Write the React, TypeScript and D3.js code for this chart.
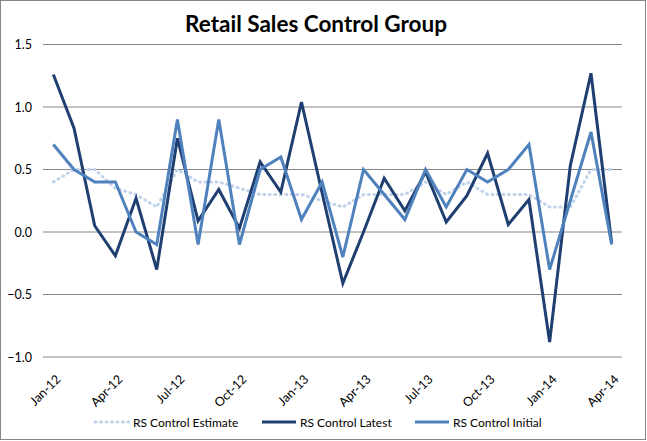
import React from "react";
import * as d3 from "d3";

const months = [
  "Jan-12","Feb-12","Mar-12","Apr-12","May-12","Jun-12","Jul-12","Aug-12","Sep-12","Oct-12","Nov-12","Dec-12",
  "Jan-13","Feb-13","Mar-13","Apr-13","May-13","Jun-13","Jul-13","Aug-13","Sep-13","Oct-13","Nov-13","Dec-13",
  "Jan-14","Feb-14","Mar-14","Apr-14",
];
const tickLabels = ["Jan-12","Apr-12","Jul-12","Oct-12","Jan-13","Apr-13","Jul-13","Oct-13","Jan-14","Apr-14"];
const yTicks = [-1.0, -0.5, 0.0, 0.5, 1.0, 1.5];

const estimate = [0.4,0.5,0.5,0.35,0.3,0.2,0.5,0.4,0.4,0.35,0.3,0.3,0.3,0.25,0.2,0.3,0.3,0.3,0.4,0.3,0.4,0.3,0.3,0.3,0.2,0.2,0.5,0.5];
const latest = [1.26,0.83,0.05,-0.19,0.27,-0.3,0.75,0.09,0.34,0.03,0.56,0.32,1.04,0.31,-0.41,0.0,0.43,0.17,0.48,0.08,0.29,0.63,0.06,0.26,-0.88,0.53,1.27,-0.09];
const initial = [0.7,0.5,0.4,0.4,0.0,-0.1,0.9,-0.1,0.9,-0.1,0.5,0.6,0.1,0.4,-0.2,0.5,0.3,0.1,0.5,0.2,0.5,0.4,0.5,0.7,-0.3,0.25,0.8,-0.1];

const seriesNames = ["RS Control Estimate", "RS Control Latest", "RS Control Initial"];

const W = 647, H = 441;
const FONT = "Lato, 'Open Sans', sans-serif";

export default function App() {
  const x = d3.scaleBand<string>().domain(months).range([43, 622]).padding(0);
  const cx = (m: string) => (x(m) as number) + x.bandwidth() / 2;
  const y = d3.scaleLinear().domain([-1, 1.5]).range([357, 44.5]);

  const line = d3.line<number>().x((_, i) => cx(months[i])).y((d) => y(d));

  const series = [
    { name: seriesNames[0], data: estimate, color: "#c0d3ea", width: 3, dash: "1 4.5", cap: "round" },
    { name: seriesNames[1], data: latest, color: "#1f3f71", width: 3, dash: undefined, cap: "butt" },
    { name: seriesNames[2], data: initial, color: "#4f81bd", width: 3, dash: undefined, cap: "butt" },
  ];

  const legendX = [95, 262, 415];

  return (
    <svg width={W} height={H} style={{ position: "absolute", left: 0, top: 0, background: "#fff" }} fontFamily={FONT}>
      <rect x={0.5} y={0.5} width={W - 2} height={H - 2} fill="#fff" stroke="#868686" />
      <text x={316} y={31.5} textAnchor="middle" fontSize={22.5} fontWeight="bold" fill="#000">
        Retail Sales Control Group
      </text>
      {yTicks.map((t) => (
        <g key={t}>
          <line x1={43} x2={622} y1={y(t)} y2={y(t)} stroke="#868686" strokeWidth={1} />
          <text x={32} y={y(t) + 4.5} textAnchor="end" fontSize={12.5} fill="#000">
            {d3.format(".1f")(t)}
          </text>
        </g>
      ))}
      {tickLabels.map((m) => (
        <text key={m} transform={`translate(${cx(m) + 8},${380}) rotate(-45)`} textAnchor="end" fontSize={12.5} fill="#000">
          {m}
        </text>
      ))}
      {series.map((s) => (
        <path key={s.name} d={line(s.data) || ""} fill="none" stroke={s.color} strokeWidth={s.width}
          strokeDasharray={s.dash} strokeLinecap={s.cap as any} strokeLinejoin="miter" />
      ))}
      {series.map((s, i) => (
        <g key={s.name}>
          <line x1={legendX[i]} x2={legendX[i] + 34} y1={422} y2={422} stroke={s.color} strokeWidth={3}
            strokeDasharray={s.dash} strokeLinecap={s.cap as any} />
          <text x={legendX[i] + 38} y={426.5} fontSize={12} fill="#000">{s.name}</text>
        </g>
      ))}
    </svg>
  );
}
